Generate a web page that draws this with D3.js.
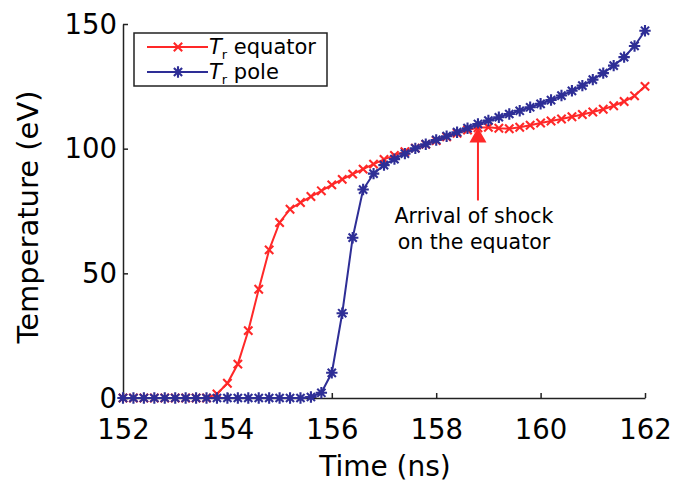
<!DOCTYPE html>
<html><head><meta charset="utf-8">
<script src="https://cdn.jsdelivr.net/npm/d3@7"></script>
<style>body{margin:0;background:#fff} svg{display:block}</style>
</head><body><svg id="c" width="676" height="485"></svg>
<script>
const times = [152.0,152.2,152.4,152.6,152.8,153.0,153.2,153.4,153.6,153.8,
  154.0,154.2,154.4,154.6,154.8,155.0,155.2,155.4,155.6,155.8,
  156.0,156.2,156.4,156.6,156.8,157.0,157.2,157.4,157.6,157.8,
  158.0,158.2,158.4,158.6,158.8,159.0,159.2,159.4,159.6,159.8,
  160.0,160.2,160.4,160.6,160.8,161.0,161.2,161.4,161.6,161.8,162.0];
const equatorT = [0,0,0,0,0,0,0,0,0,1.6,
  5.9,13.6,27.0,43.6,59.4,70.4,75.7,78.4,80.8,83.1,
  85.5,87.7,89.8,91.8,93.8,95.7,97.3,98.8,100.2,101.7,
  103.2,104.7,106.2,107.5,108.4,108.6,108.2,108.0,108.6,109.4,
  110.3,111.1,111.9,112.8,113.7,114.7,115.8,117.2,118.9,121.2,125.0];
const poleT = [0,0,0,0,0,0,0,0,0,0,
  0,0,0,0,0,0,0,0,0.4,2.1,
  10.1,34.0,64.3,83.6,90.0,93.4,95.8,98.0,100.1,101.8,
  103.5,105.0,106.6,108.2,109.9,111.3,112.6,113.9,115.2,116.6,
  118.0,119.5,121.3,123.2,125.3,127.7,130.3,133.3,136.7,141.2,147.3];
const xTicks = [152,154,156,158,160,162];
const yTicks = [0,50,100,150];
const legendNames = ["equator","pole"];
const arrowTime = 158.8;
const arrowValue = 108.5;
const noteLines = ["Arrival of shock","on the equator"];

const RED = "#ff2828", BLUE = "#2e2e96";
const FONT = "DejaVu Sans, sans-serif";
const svg = d3.select("#c");
const x = d3.scaleLinear().domain([152,162]).range([123,645]);
const y = d3.scaleLinear().domain([0,150]).range([398,24]);

// asterisk symbol (plus + x)
const star = {draw(ctx, size){
  const r = Math.sqrt(size)/2, d = r*0.72;
  ctx.moveTo(-r,0); ctx.lineTo(r,0);
  ctx.moveTo(0,-r); ctx.lineTo(0,r);
  ctx.moveTo(-d,-d); ctx.lineTo(d,d);
  ctx.moveTo(-d,d); ctx.lineTo(d,-d);
}};
const cross = {draw(ctx, size){
  const r = Math.sqrt(size)/2;
  ctx.moveTo(-r,-r); ctx.lineTo(r,r);
  ctx.moveTo(-r,r); ctx.lineTo(r,-r);
}};

// axes
const gx = svg.append("g").attr("transform","translate(0,398)")
  .call(d3.axisBottom(x).tickValues(xTicks).tickFormat(d3.format("d"))
    .tickSizeInner(-5).tickSizeOuter(0).tickPadding(21));
const gy = svg.append("g").attr("transform","translate(123,0)")
  .call(d3.axisLeft(y).tickValues(yTicks).tickFormat(d3.format("d"))
    .tickSizeInner(-5).tickSizeOuter(0).tickPadding(6));
[gx,gy].forEach(g=>{
  g.select(".domain").attr("stroke","#222").attr("stroke-width",1.5);
  g.selectAll(".tick line").attr("stroke","#222").attr("stroke-width",1.5);
  g.selectAll(".tick text").attr("font-family",FONT).attr("font-size",27.5).attr("fill","#000");
});
gy.selectAll(".tick text").attr("dy","0.33em");

// series
const series = [
  {vals: equatorT, color: RED, sym: cross, size: 70},
  {vals: poleT, color: BLUE, sym: star, size: 130}
];
const line = d3.line().x((d,i)=>x(times[i])).y(d=>y(d));
series.forEach(s=>{
  svg.append("path").datum(s.vals).attr("d",line).attr("fill","none")
    .attr("stroke",s.color).attr("stroke-width",2);
  svg.append("g").selectAll("path").data(s.vals).join("path")
    .attr("transform",(d,i)=>`translate(${x(times[i])},${y(d)})`)
    .attr("d",d3.symbol(s.sym,s.size)())
    .attr("fill","none").attr("stroke",s.color).attr("stroke-width",2.1);
});

// annotation arrow
const ax = x(arrowTime), ay = y(arrowValue);
svg.append("line").attr("x1",ax).attr("x2",ax).attr("y1",ay+12).attr("y2",ay+73)
  .attr("stroke",RED).attr("stroke-width",2);
svg.append("path").attr("d",`M${ax},${ay} L${ax-8.5},${ay+15} L${ax+8.5},${ay+15}Z`).attr("fill",RED);
noteLines.forEach((t,i)=>{
  svg.append("text").attr("x",ax-4).attr("y",223+i*26).attr("text-anchor","middle")
    .attr("font-family",FONT).attr("font-size",20.5).text(t);
});

// titles
svg.append("text").attr("x",385).attr("y",476).attr("text-anchor","middle")
  .attr("font-family",FONT).attr("font-size",28).text("Time (ns)");
svg.append("text").attr("transform","translate(38,217) rotate(-90)").attr("text-anchor","middle")
  .attr("font-family",FONT).attr("font-size",29).text("Temperature (eV)");

// legend
const lg = svg.append("g");
lg.append("rect").attr("x",134).attr("y",33).attr("width",193).attr("height",53)
  .attr("fill","#fff").attr("stroke","#222").attr("stroke-width",1.5);
series.forEach((s,i)=>{
  const yy = 47 + i*25;
  lg.append("line").attr("x1",147).attr("x2",208).attr("y1",yy).attr("y2",yy)
    .attr("stroke",s.color).attr("stroke-width",2);
  lg.append("path").attr("transform",`translate(178,${yy})`).attr("d",d3.symbol(s.sym,s.size)())
    .attr("fill","none").attr("stroke",s.color).attr("stroke-width",2.1);
  const t = lg.append("text").attr("x",209).attr("y",yy+7).attr("font-family",FONT).attr("font-size",21);
  t.append("tspan").attr("font-style","italic").text("T");
  t.append("tspan").attr("font-size",13).attr("dy",5).text("r");
  t.append("tspan").attr("dy",-5).text(" " + legendNames[i]);
});
</script></body></html>
